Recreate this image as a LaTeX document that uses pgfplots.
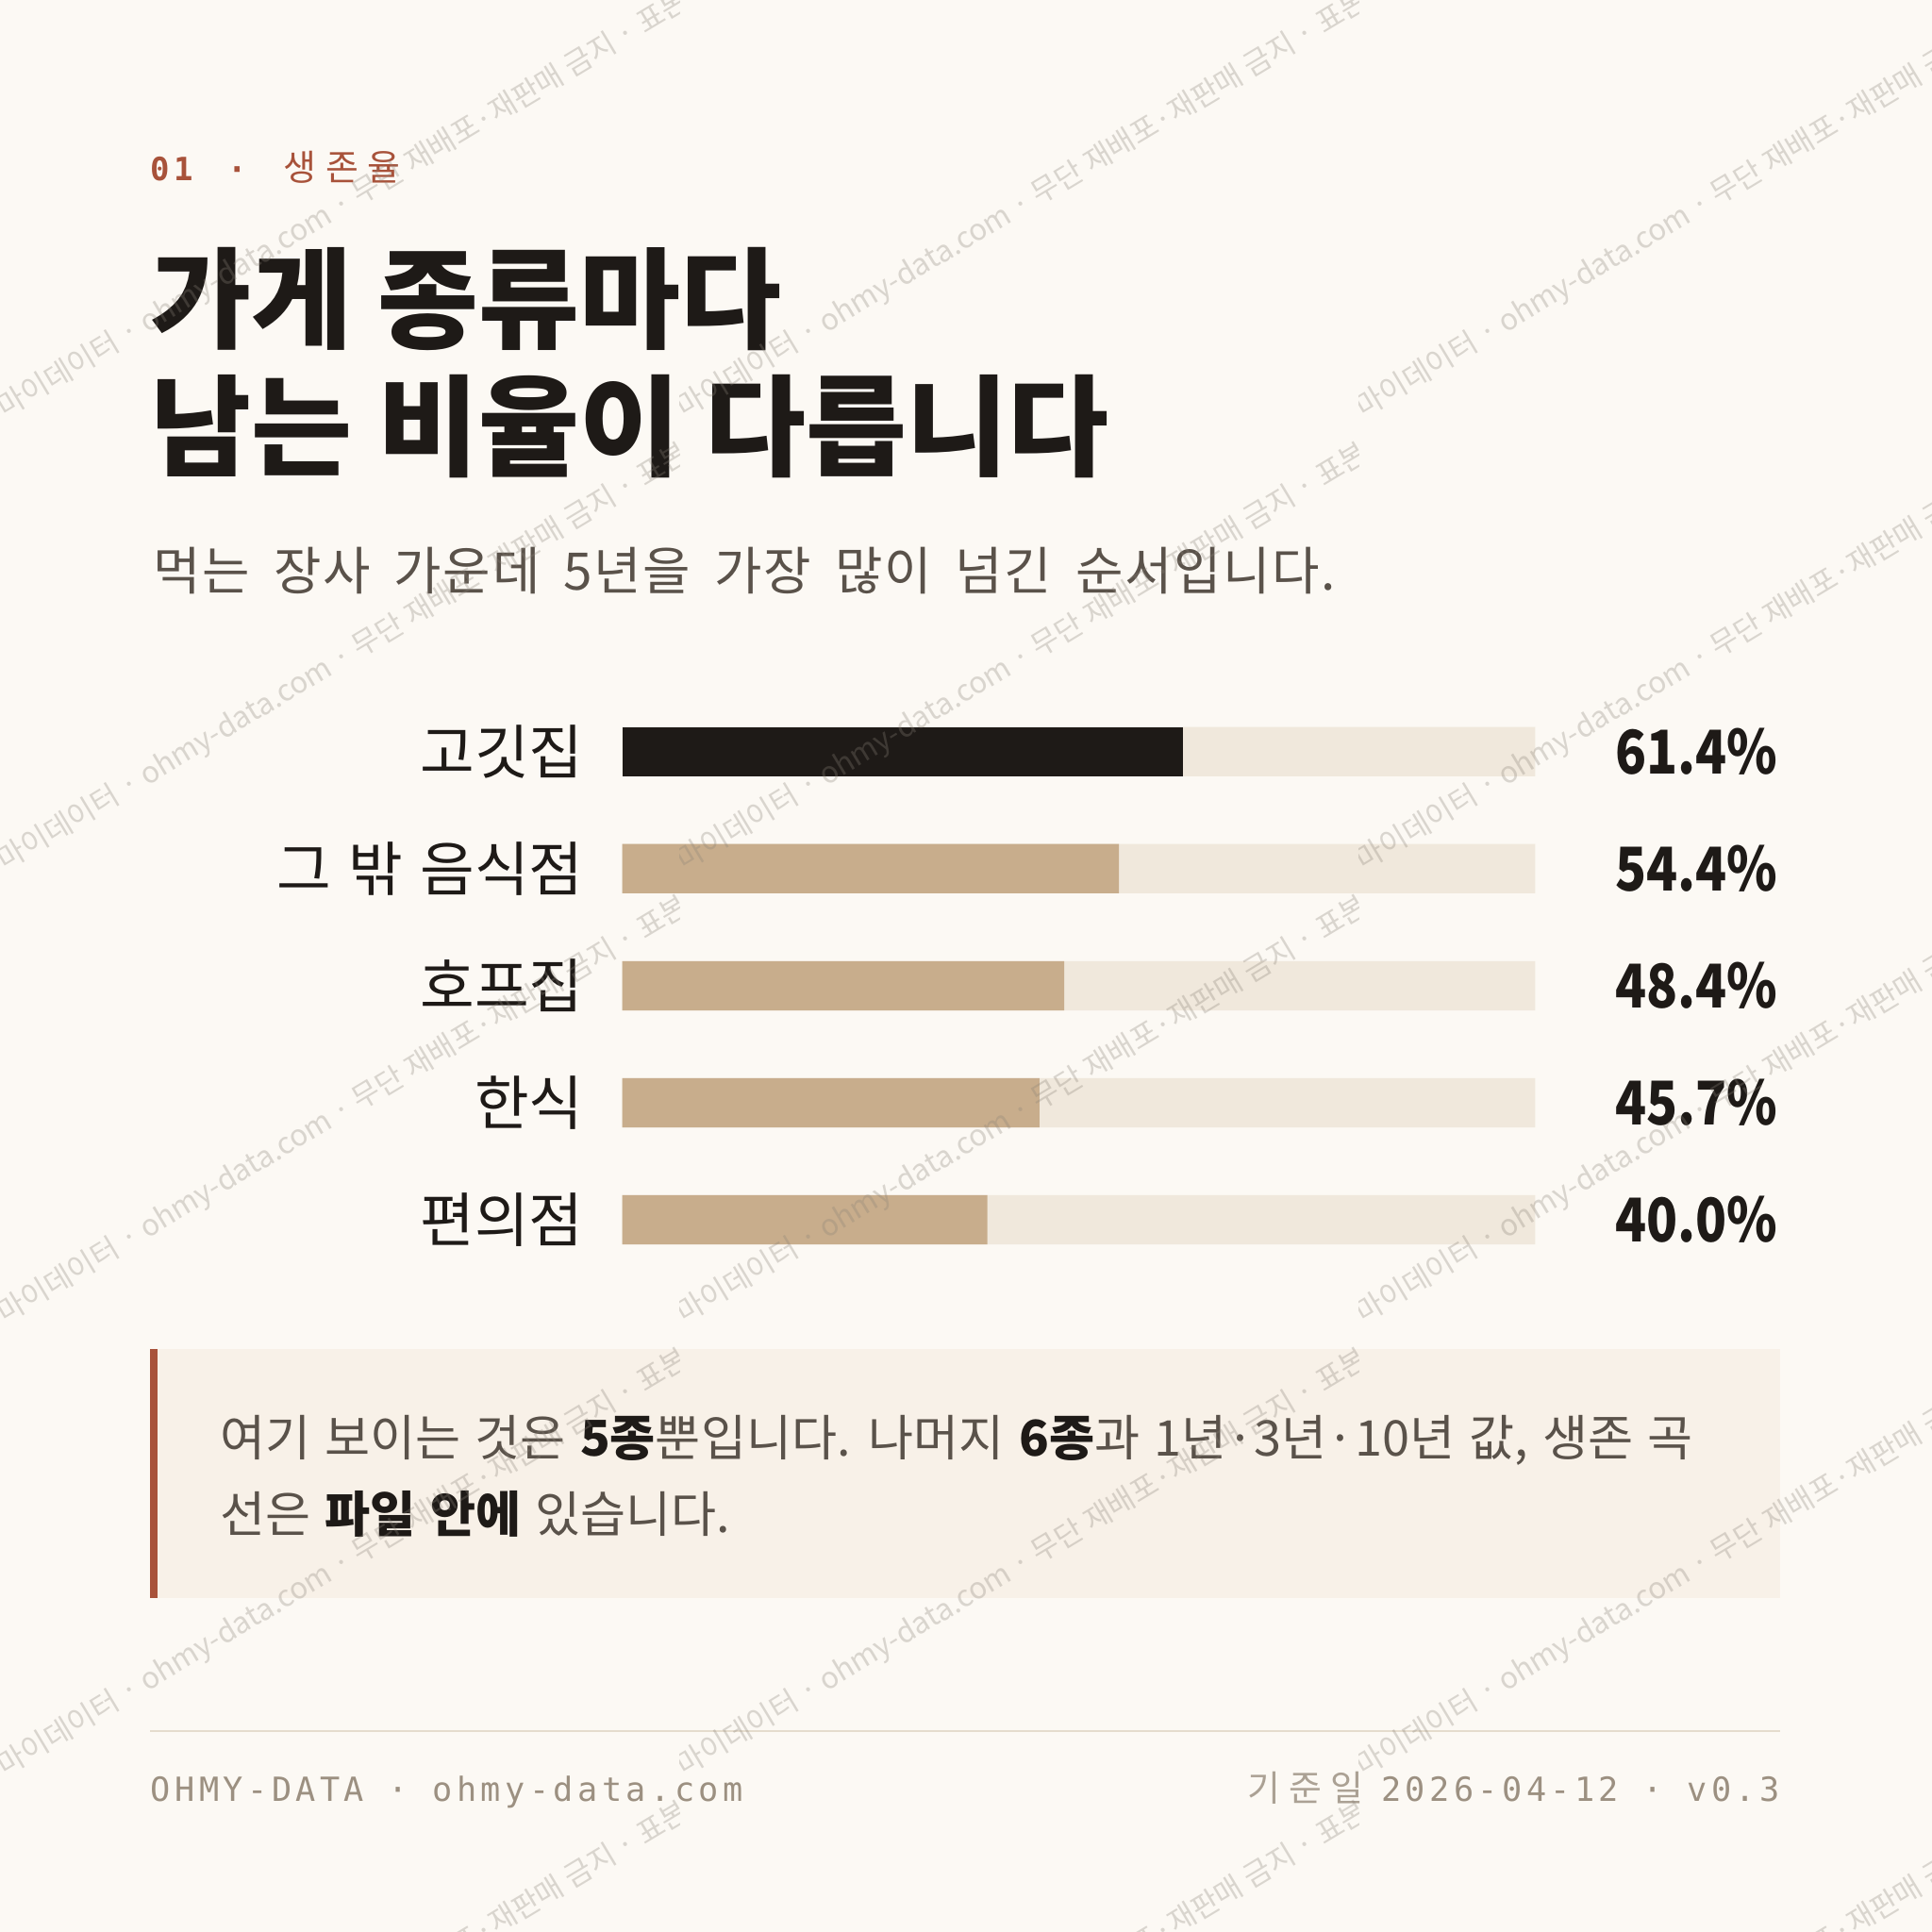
\documentclass[border=0pt]{standalone}
\usepackage{pgfplots}
\pgfplotsset{compat=1.18}
\usepackage{pgfplotstable}
\usepackage{fontspec}
\setmainfont{Noto Sans CJK KR}
\newfontfamily\mono[LetterSpace=12.5]{DejaVu Sans Mono}
\newfontfamily\krsp[LetterSpace=25]{Noto Sans CJK KR}
\newfontfamily\krdate[LetterSpace=24]{Noto Sans CJK KR}
\newfontfamily\krsub[LetterSpace=3,WordSpace=1.8]{Noto Sans CJK KR}
\newfontfamily\krlab[WordSpace=2.3]{Noto Sans CJK KR}
\newfontfamily\krnote[WordSpace=1.3]{Noto Sans CJK KR}

\definecolor{bg}{HTML}{FCF9F4}
\definecolor{ink}{HTML}{1E1A17}
\definecolor{barTan}{HTML}{C8AD8C}
\definecolor{track}{HTML}{F0E8DC}
\definecolor{boxfill}{HTML}{F8F1E8}
\definecolor{rust}{HTML}{A8523A}
\definecolor{bodytxt}{HTML}{5A524A}
\definecolor{foot}{HTML}{9C9081}
\definecolor{rulec}{HTML}{E5DCCD}
\definecolor{wmc}{HTML}{8A8278}

\pgfplotstableread{
idx value full
0 61.4 100
1 54.4 100
2 48.4 100
3 45.7 100
4 40.0 100
}\survival
\pgfplotstableread{
idx value
0 61.4
}\topbar
\pgfplotstableread{
idx value
1 54.4
2 48.4
3 45.7
4 40.0
}\otherbars

\begin{document}
\begin{tikzpicture}
\begin{scope}[x=0.5pt,y=-0.5pt]
\useasboundingbox (0,0) rectangle (1568,1568);
\fill[bg] (0,0) rectangle (1568,1568);
% tag line
\node[anchor=base west, inner sep=0, text=rust, font=\mono\bfseries\fontsize{13}{13}\selectfont] at (122,147) {01};
\node[anchor=base, inner sep=0, text=rust, font=\mono\bfseries\fontsize{13}{13}\selectfont] at (193,147) {·};
\node[anchor=base west, inner sep=0, text=rust, font=\krsp\fontsize{14.5}{14.5}\selectfont] at (230,147) {생존율};
% title
\node[anchor=base west, inner sep=0, text=ink, font=\bfseries\fontsize{44.5}{44.5}\selectfont] at (122,276) {가게 종류마다};
\node[anchor=base west, inner sep=0, text=ink, font=\bfseries\fontsize{44.5}{44.5}\selectfont] at (122,379) {남는 비율이 다릅니다};
% subtitle
\node[anchor=base west, inner sep=0, text=bodytxt, font=\krsub\fontsize{21}{21}\selectfont] at (124,479) {먹는 장사 가운데 5년을 가장 많이 넘긴 순서입니다.};
% note box
\fill[boxfill] (122,1095) rectangle (1445,1297);
\fill[rust] (122,1095) rectangle (128,1297);
\node[anchor=base west, inner sep=0, text=bodytxt, font=\krnote\fontsize{20}{20}\selectfont] at (178,1182) {여기 보이는 것은 {\bfseries\color{ink}5종}뿐입니다. 나머지 {\bfseries\color{ink}6종}과 1년·3년·10년 값, 생존 곡};
\node[anchor=base west, inner sep=0, text=bodytxt, font=\krnote\fontsize{20}{20}\selectfont] at (178,1244) {선은 {\bfseries\color{ink}파일 안에} 있습니다.};
% footer
\draw[rulec, line width=0.75pt] (122,1405) -- (1445,1405);
\node[anchor=base west, inner sep=0, text=foot, font=\mono\fontsize{13.5}{13.5}\selectfont] at (122,1462) {OHMY-DATA · ohmy-data.com};
\node[anchor=base east, inner sep=0, text=foot, font=\mono\fontsize{13.5}{13.5}\selectfont] (ver) at (1445,1462) {2026-04-12 · v0.3};
\node[anchor=base east, inner sep=0, text=foot!85, font=\krdate\fontsize{14.5}{14.5}\selectfont] at ([xshift=-7pt]ver.base west) {기준일};
\end{scope}

\begin{axis}[
  at={(252.5pt,-281.25pt)}, anchor=north west,
  scale only axis, width=370.5pt, height=237.5pt,
  xmin=0, xmax=100, ymin=-0.5, ymax=4.5, y dir=reverse,
  hide x axis,
  y axis line style={draw=none},
  ytick={0,1,2,3,4},
  yticklabels={고깃집,그 밖 음식점,호프집,한식,편의점},
  ytick style={draw=none},
  major tick length=0pt,
  yticklabel style={font=\krlab\fontsize{24}{24}\selectfont, text=ink, anchor=east, inner sep=0pt, xshift=-15.5pt},
  clip=false,
  /pgf/number format/assume math mode=true,
]
\addplot[xbar, bar width=20pt, bar shift=0pt, fill=track, draw=none,
  point meta=explicit,
  nodes near coords={\pgfmathprintnumber[fixed,fixed zerofill,precision=1]{\pgfplotspointmeta}\%},
  nodes near coords style={anchor=east, inner sep=0pt, xshift=98.5pt, xscale=0.85, text=ink, font=\bfseries\fontsize{24.5}{24.5}\selectfont}]
  table[x=full, y=idx, meta=value]{\survival};
\addplot[xbar, bar width=20pt, bar shift=0pt, fill=ink, draw=none] table[x=value, y=idx]{\topbar};
\addplot[xbar, bar width=20pt, bar shift=0pt, fill=barTan, draw=none] table[x=value, y=idx]{\otherbars};
\end{axis}

\begin{scope}[x=0.5pt,y=-0.5pt]
\clip (0,0) rectangle (1568,1568);
\foreach \i in {0,1,2} {
  \foreach \ys in {-27.5,340,707.5,1075,1442.5,1810} {
    \begin{scope}
      \clip (\i*551.25,\ys-360) rectangle (\i*551.25+551.25,\ys+8);
      \node[anchor=base west, inner sep=0, rotate=31, text=wmc, opacity=0.3, font=\fontsize{12}{12}\selectfont] at (\i*551.25+4,\ys) {마이데이터 · ohmy-data.com · 무단 재배포·재판매 금지 · 표본 데이터};
    \end{scope}
  }
}
\end{scope}
\end{tikzpicture}
\end{document}
